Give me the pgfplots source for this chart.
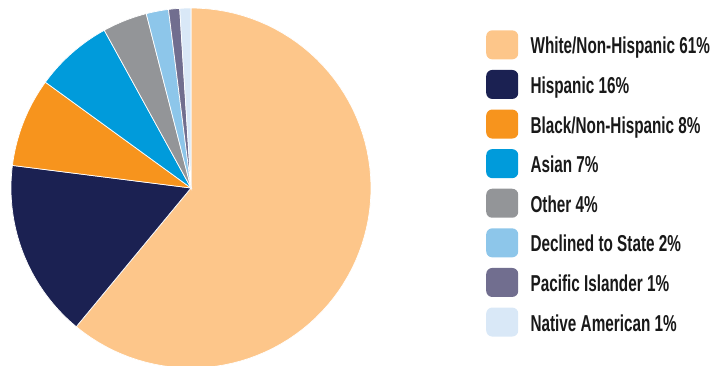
\documentclass[border=0pt]{standalone}
\usepackage{fontspec}
\setmainfont{Liberation Sans}
\newfontfamily\legendfont[FakeStretch=0.665]{Liberation Sans}
\usepackage{pgfplots}
\pgfplotsset{compat=1.18}
\definecolor{cWhite}{HTML}{FDC68A}
\definecolor{cHisp}{HTML}{1B2152}
\definecolor{cBlack}{HTML}{F7941D}
\definecolor{cAsian}{HTML}{009BDB}
\definecolor{cOther}{HTML}{939598}
\definecolor{cDecl}{HTML}{8DC6EA}
\definecolor{cPac}{HTML}{716E8F}
\definecolor{cNat}{HTML}{D9E8F7}
\def\curang{90}
\newcommand\pieslice[3]{% value, colour, label
  \pgfmathsetmacro\endang{\curang-3.6*#1}%
  \edef\temp{\noexpand\addplot[fill=#2, draw=white, line width=0.7pt, domain=\endang:\curang, samples=80] ({cos(x)},{sin(x)}) -- (axis cs:0,0) -- cycle;}%
  \temp
  \addlegendentry{#3 #1\%}%
  \global\let\curang\endang
}
\begin{document}
\begin{tikzpicture}
\useasboundingbox (0,0) rectangle (714pt,365pt);
\begin{axis}[
  at={(11pt,-3pt)}, anchor=south west,
  scale only axis, width=360pt, height=360pt,
  xmin=-1, xmax=1, ymin=-1, ymax=1,
  hide axis,
  legend image code/.code={\fill[#1, draw=none, rounded corners=6pt] (0pt,-13pt) rectangle (32pt,16pt); \path (44pt,0pt);},
  legend style={at={(axis cs:1.639,0.877)}, anchor=north west, draw=none, fill=none,
    inner sep=0pt, row sep=10.6pt, legend cell align=left,
    font=\legendfont\bfseries\fontsize{23}{26}\selectfont,
    nodes={inner sep=0pt, text=black!90}},
]
\pieslice{61}{cWhite}{White/Non-Hispanic}
\pieslice{16}{cHisp}{Hispanic}
\pieslice{8}{cBlack}{Black/Non-Hispanic}
\pieslice{7}{cAsian}{Asian}
\pieslice{4}{cOther}{Other}
\pieslice{2}{cDecl}{Declined to State}
\pieslice{1}{cPac}{Pacific Islander}
\pieslice{1}{cNat}{Native American}
\end{axis}
\end{tikzpicture}
\end{document}
